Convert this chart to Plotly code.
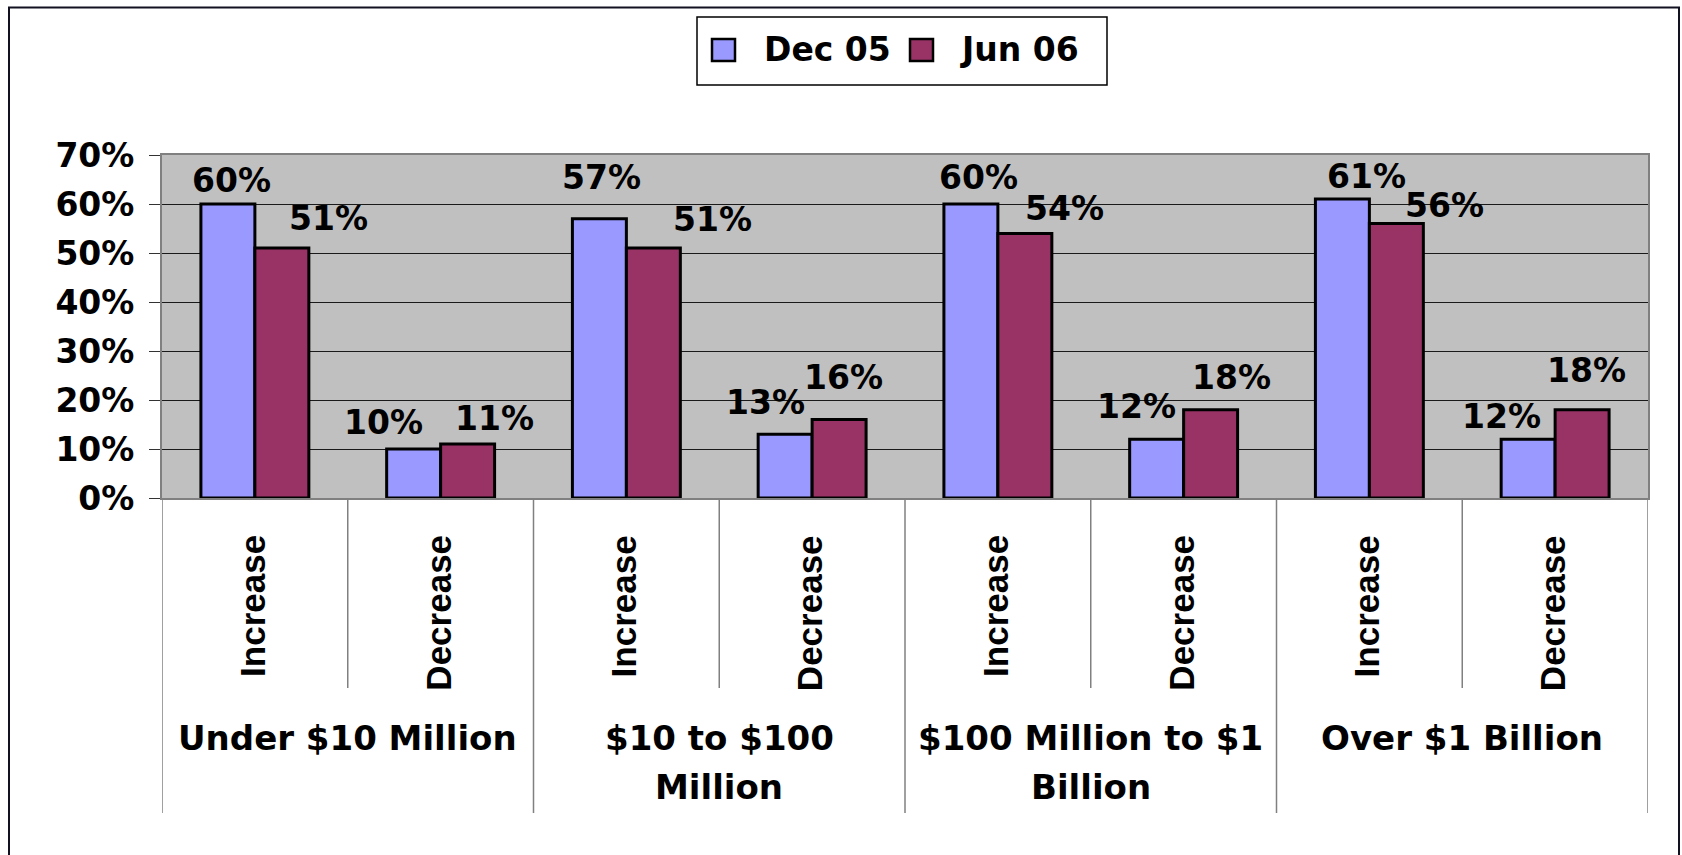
import numpy as np
import plotly.graph_objects as go

# Survey results by company size: share expecting an increase / decrease
groups = ["Under $10 Million", "$10 to $100<br>Million", "$100 Million to $1<br>Billion", "Over $1 Billion"]
subcats = ["Increase", "Decrease"]
dec05 = [60, 10, 57, 13, 60, 12, 61, 12]
jun06 = [51, 11, 51, 16, 54, 18, 56, 18]
series_names = ["Dec 05", "Jun 06"]
y_ticks = [0, 10, 20, 30, 40, 50, 60, 70]

# --- page geometry (pixels) ---
W, H = 1682, 855
L, R, T, B = 162, 34, 155, 357
PW, PH = W - L - R, H - T - B


def px_x(p):
    return (p - L) / PW


def px_y(p):
    return (H - B - p) / PH


FONT = "DejaVu Sans"
COL_DEC = "#9999FF"
COL_JUN = "#993366"
series_colors = [COL_DEC, COL_JUN]
BAR_HALF_PX = 27  # centre offset of each bar inside its group

n = len(dec05)
xpos = np.arange(n)

fig = go.Figure()
for name, vals, col in zip(series_names, (dec05, jun06), series_colors):
    fig.add_trace(go.Bar(x=xpos, y=vals, name=name,
                         marker=dict(color=col, line=dict(color="black", width=3))))

# hand-placed value labels: (dx, dy) pixel nudge from each bar top centre
nudge_dec = [(4, 24), (-30, 27), (2, 41), (-20, 32), (8, 27), (-20, 33), (24, 23), (-27, 23)]
nudge_jun = [(47, 30), (27, 26), (59, 29), (4, 42), (40, 25), (21, 32), (48, 18), (4, 39)]

bold = dict(family=FONT, size=33, color="black", weight="bold")

annotations = []
for vals, nudges, side in ((dec05, nudge_dec, -1), (jun06, nudge_jun, 1)):
    for i, v in enumerate(vals):
        dx, dy = nudges[i]
        annotations.append(dict(
            x=xpos[i], y=v, xref="x", yref="y", text=f"{v}%", showarrow=False,
            xshift=side * BAR_HALF_PX + dx, yshift=dy, yanchor="middle", xanchor="center",
            font=bold))

# rotated Increase / Decrease labels under each bar pair
for i in range(n):
    annotations.append(dict(
        x=xpos[i], y=px_y(533), xref="x", yref="paper", text=subcats[i % 2],
        showarrow=False, textangle=-90, xanchor="center", yanchor="top", xshift=-3,
        font=dict(family="Liberation Sans", size=35, color="black", weight="bold")))

# size-band labels, one annotation per text line
for g, label in enumerate(groups):
    for k, line in enumerate(label.split("<br>")):
        annotations.append(dict(
            x=2 * g + 0.5, y=px_y(738 + 48.5 * k), xref="x", yref="paper", text=line,
            showarrow=False, xanchor="center", yanchor="middle",
            font=dict(family=FONT, size=34, color="black", weight="bold")))

shapes = []
# divider lines below the category axis
for k in range(n + 1):
    bottom = 813 if k % 2 == 0 else 688
    shapes.append(dict(type="line", xref="x", yref="paper",
                       x0=k - 0.5, x1=k - 0.5, y0=0, y1=px_y(bottom),
                       line=dict(color="#808080", width=1.5)))
# outer chart frame
shapes.append(dict(type="rect", xref="paper", yref="paper",
                   x0=px_x(9), x1=px_x(1679), y0=px_y(880), y1=px_y(7.5),
                   line=dict(color="#111122", width=2), fillcolor="rgba(0,0,0,0)"))

# legend box with series swatches
shapes.append(dict(type="rect", xref="paper", yref="paper",
                   x0=px_x(697), x1=px_x(1107), y0=px_y(85), y1=px_y(17),
                   line=dict(color="black", width=1.5), fillcolor="white"))
swatch_left = [712, 910]
text_left = [762, 958]
for name, col, sx, tx in zip(series_names, series_colors, swatch_left, text_left):
    shapes.append(dict(type="rect", xref="paper", yref="paper",
                       x0=px_x(sx), x1=px_x(sx + 23), y0=px_y(61), y1=px_y(39),
                       line=dict(color="black", width=2.5), fillcolor=col))
    annotations.append(dict(x=px_x(tx), y=px_y(49), xref="paper", yref="paper",
                            text=name, showarrow=False, xanchor="left", yanchor="middle",
                            font=bold))

fig.update_layout(
    width=W, height=H,
    margin=dict(l=L, r=R, t=T, b=B),
    paper_bgcolor="white",
    plot_bgcolor="#C0C0C0",
    barmode="group",
    bargap=0.419,
    bargroupgap=0,
    showlegend=False,
    xaxis=dict(
        range=[-0.5, n - 0.5], showticklabels=False, ticks="", showgrid=False,
        zeroline=False, showline=True, linecolor="#808080", linewidth=2, mirror=True,
    ),
    yaxis=dict(
        range=[0, 70], tickmode="array", tickvals=y_ticks,
        ticktext=[f"{t}%" for t in y_ticks],
        showgrid=True, gridcolor="#1a1a1a", gridwidth=1,
        zeroline=False, showline=True, linecolor="#808080", linewidth=2, mirror=True,
        ticks="outside", ticklen=11, tickcolor="#333333", tickwidth=1,
        ticklabelstandoff=8,
        tickfont=bold,
    ),
    annotations=annotations,
    shapes=shapes,
)

fig.write_html("out.html")
